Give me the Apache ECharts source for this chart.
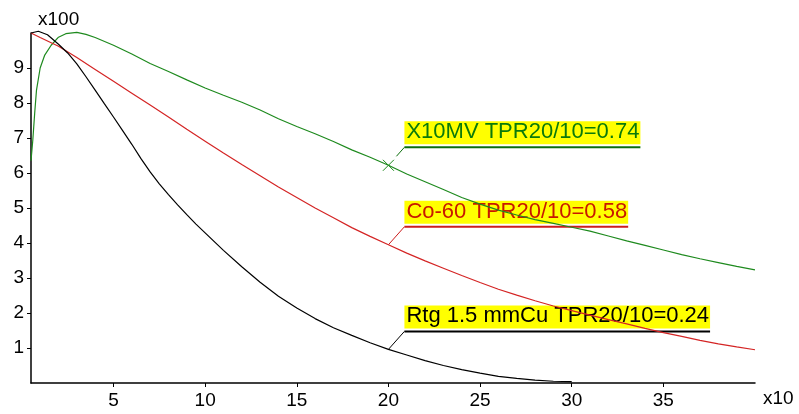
<!DOCTYPE html>
<html>
<head>
<meta charset="utf-8">
<script src="https://cdn.jsdelivr.net/npm/echarts@6/dist/echarts.min.js"></script>
<style>
  html, body { margin: 0; padding: 0; background: #fff; }
  #chart { width: 799px; height: 414px; }
</style>
</head>
<body>
<div id="chart"></div>
<script>
// depth in x10 (mm), dose in x100 (%)
var xTicks = [5, 10, 15, 20, 25, 30, 35]
var yTicks = [1, 2, 3, 4, 5, 6, 7, 8, 9]

var depthX10 = [0.5, 0.6, 0.7, 0.8, 1, 1.25, 1.6, 2, 2.4, 3, 3.5, 4, 5, 6, 7, 8, 9, 10, 11, 12, 13, 14, 15, 16, 17, 18, 19, 20,
  21, 22, 23, 24, 25, 26, 27, 28, 29, 30, 31, 32, 33, 34, 35, 36, 37, 38, 39, 40]
var doseX10 = [6.35, 6.95, 7.7, 8.37, 9.0, 9.37, 9.65, 9.88, 9.98, 10.02, 9.96, 9.87, 9.65, 9.4, 9.13, 8.9, 8.66, 8.43, 8.22, 8.02, 7.8, 7.55, 7.33, 7.12, 6.9, 6.66, 6.45, 6.22,
  5.97, 5.75, 5.53, 5.3, 5.11, 4.94, 4.8, 4.67, 4.56, 4.45, 4.34, 4.2, 4.06, 3.93, 3.8, 3.67, 3.55, 3.44, 3.33, 3.23]

var depthCo = [0.5, 1, 2, 3, 4, 5, 6, 7, 8, 9, 10, 11, 12, 13, 14, 15, 16, 17, 18, 19, 20,
  21, 22, 23, 24, 25, 26, 27, 28, 29, 30, 31, 32, 33, 34, 35, 36, 37, 38, 39, 40]
var doseCo = [10.0, 9.87, 9.62, 9.3, 8.96, 8.62, 8.28, 7.94, 7.6, 7.25, 6.91, 6.57, 6.24, 5.92, 5.6, 5.3, 5.0, 4.72, 4.44, 4.19, 3.95,
  3.71, 3.49, 3.28, 3.07, 2.87, 2.68, 2.51, 2.35, 2.2, 2.07, 1.94, 1.81, 1.69, 1.56, 1.44, 1.33, 1.22, 1.12, 1.03, 0.95]

var depthRtg = [0.5, 0.9, 1.4, 2, 2.5, 3, 3.5, 4, 4.5, 5, 5.5, 6, 6.5, 7, 7.5, 8, 8.5, 9, 9.5, 10, 11, 12, 13, 14, 15, 16, 17, 18, 19, 20,
  21, 22, 23, 24, 25, 26, 27, 28, 29, 30]
var doseRtg = [10.0, 10.05, 9.95, 9.68, 9.43, 9.12, 8.75, 8.37, 7.98, 7.6, 7.21, 6.82, 6.41, 6.03, 5.69, 5.38, 5.09, 4.81, 4.54, 4.29, 3.79, 3.32, 2.88, 2.48, 2.14, 1.84, 1.58, 1.36, 1.15, 0.96,
  0.8, 0.64, 0.5, 0.38, 0.28, 0.19, 0.13, 0.08, 0.05, 0.04]

var labelTexts = ['X10MV TPR20/10=0.74', 'Co-60 TPR20/10=0.58', 'Rtg 1.5 mmCu TPR20/10=0.24']
var labelDepth = 20

var FONT = '"Liberation Sans", Arial, sans-serif'
var lineColors = ['#1e8a1e', '#d42424', '#000000']
var textColors = ['#0b7a0b', '#c81800', '#000000']
var underColors = ['#0b6e0b', '#cc1c1c', '#000000']

function pairs(xs, ys) {
  return xs.map(function (x, i) { return [x, ys[i]] })
}

var chartDom = echarts.init(document.getElementById('chart'), null, { renderer: 'canvas' })

var axisText = { color: '#000', fontSize: 19, fontFamily: FONT }

chartDom.setOption({
  animation: false,
  backgroundColor: '#fff',
  grid: { left: 31, right: 44, top: 33, bottom: 31, outerBoundsMode: 'none' },
  xAxis: {
    type: 'value',
    min: 0.5,
    max: 40,
    name: 'x10',
    nameLocation: 'end',
    nameGap: 8,
    nameTextStyle: { color: '#000', fontSize: 19, fontFamily: FONT, align: 'left', verticalAlign: 'top', padding: [6, 0, 0, 0] },
    splitLine: { show: false },
    axisLine: { lineStyle: { color: '#000', width: 1.5 } },
    axisTick: { length: 4, lineStyle: { color: '#000' }, customValues: xTicks },
    axisLabel: Object.assign({ margin: 8, customValues: xTicks }, axisText)
  },
  yAxis: {
    type: 'value',
    min: 0,
    max: 10,
    interval: 1,
    name: 'x100',
    nameLocation: 'end',
    nameGap: 4,
    nameTextStyle: { color: '#000', fontSize: 19, fontFamily: FONT, align: 'left', padding: [0, 0, 0, 7] },
    splitLine: { show: false },
    axisLine: { onZero: false, lineStyle: { color: '#000', width: 1.5 } },
    axisTick: { length: 4, lineStyle: { color: '#000' }, customValues: yTicks },
    axisLabel: Object.assign({ margin: 7, customValues: yTicks }, axisText)
  },
  series: [
    {
      name: labelTexts[0],
      type: 'line',
      data: pairs(depthX10, doseX10),
      showSymbol: false,
      clip: false,
      z: 3,
      lineStyle: { color: lineColors[0], width: 1.2 },
      markPoint: {
        symbol: 'path://M0,0L10,10M0,10L10,0',
        symbolSize: 11,
        itemStyle: { color: 'none', borderColor: lineColors[0], borderWidth: 1 },
        label: { show: false },
        data: [{ coord: [labelDepth, doseX10[depthX10.indexOf(labelDepth)]] }]
      }
    },
    {
      name: labelTexts[1],
      type: 'line',
      data: pairs(depthCo, doseCo),
      showSymbol: false,
      clip: false,
      z: 3,
      lineStyle: { color: lineColors[1], width: 1.2 }
    },
    {
      name: labelTexts[2],
      type: 'line',
      data: pairs(depthRtg, doseRtg),
      showSymbol: false,
      clip: false,
      z: 3,
      lineStyle: { color: lineColors[2], width: 1.2 }
    }
  ]
})

// annotations: yellow label + underline + leader from the point at depth 20
var measure = document.createElement('canvas').getContext('2d')
measure.font = '22px ' + FONT
var pointVals = [
  doseX10[depthX10.indexOf(labelDepth)],
  doseCo[depthCo.indexOf(labelDepth)],
  doseRtg[depthRtg.indexOf(labelDepth)]
]
var leaderStart = [0.5, 0, 0]
var graphics = []
labelTexts.forEach(function (txt, i) {
  var p = chartDom.convertToPixel({ gridIndex: 0 }, [labelDepth, pointVals[i]])
  var ux = p[0] + 16
  var uy = p[1] - 18
  var w = measure.measureText(txt).width + 3
  graphics.push({
    type: 'rect', z: 1,
    shape: { x: ux, y: uy - 26, width: w, height: 23 },
    style: { fill: '#ffff00' }
  })
  graphics.push({
    type: 'text', z: 1,
    x: ux + 2, y: uy - 15,
    style: { text: txt, font: '22px ' + FONT, fill: textColors[i], verticalAlign: 'middle', align: 'left' }
  })
  graphics.push({
    type: 'line', z: 1,
    shape: { x1: ux, y1: uy, x2: ux + w, y2: uy },
    style: { stroke: underColors[i], lineWidth: 2 }
  })
  var sx = p[0] + (ux - p[0]) * leaderStart[i]
  var sy = p[1] + (uy - p[1]) * leaderStart[i]
  graphics.push({
    type: 'line', z: 1,
    shape: { x1: sx, y1: sy, x2: ux, y2: uy },
    style: { stroke: underColors[i], lineWidth: 1 }
  })
})
chartDom.setOption({ graphic: graphics })

window.addEventListener('resize', function () {
  chartDom.resize()
})
</script>
</body>
</html>
